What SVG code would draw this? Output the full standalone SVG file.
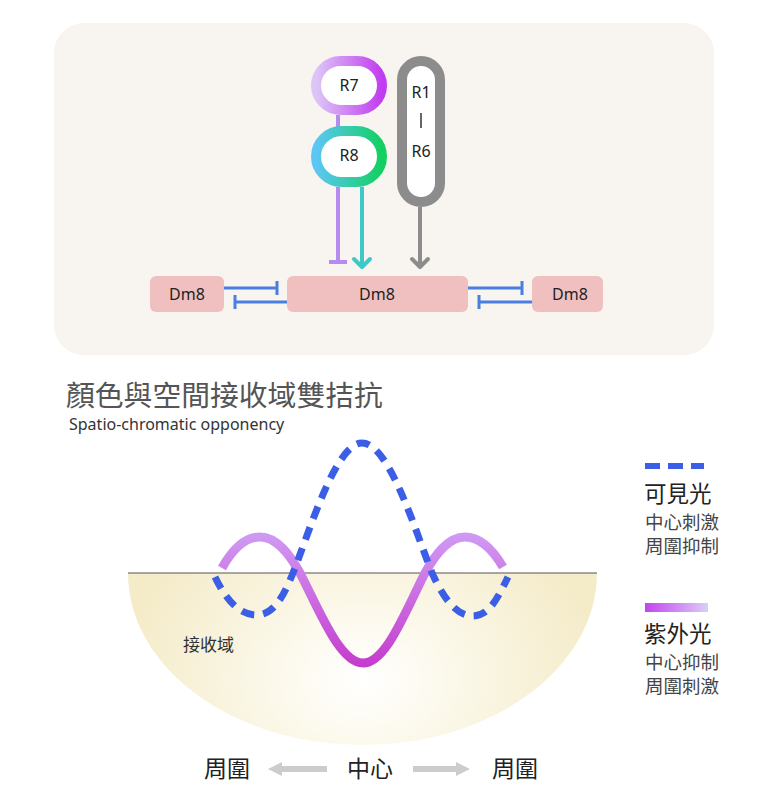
<svg xmlns="http://www.w3.org/2000/svg" width="768" height="812" viewBox="0 0 768 812">
  <style>
    .lat { font-family: "Noto Sans", "Open Sans", sans-serif; }
    .cjk { font-family: "Noto Sans CJK TC", "Noto Sans CJK SC", sans-serif; }
    .node { font-size: 16px; fill: #222; text-anchor: middle; }
    .dm8 { fill: #f0c0c0; }
    .inh { stroke: #4a7ee0; stroke-width: 3; fill: none; }
    .leg1 { font-size: 22.5px; fill: #222; }
    .leg2 { font-size: 18.5px; fill: #444; }
    .bot { font-size: 23px; fill: #222; text-anchor: middle; }
  </style>
  <defs>
    <linearGradient id="gR7" x1="0" y1="0" x2="1" y2="0">
      <stop offset="0" stop-color="#dcc6f6"/>
      <stop offset="1" stop-color="#c13cf0"/>
    </linearGradient>
    <linearGradient id="gR8" x1="0" y1="0" x2="1" y2="0">
      <stop offset="0" stop-color="#5cc6f6"/>
      <stop offset="1" stop-color="#12d060"/>
    </linearGradient>
    <linearGradient id="gUV" x1="0" y1="537" x2="0" y2="668" gradientUnits="userSpaceOnUse">
      <stop offset="0" stop-color="#cf98f2"/>
      <stop offset="1" stop-color="#c53acd"/>
    </linearGradient>
    <linearGradient id="gLeg" x1="0" y1="0" x2="1" y2="0">
      <stop offset="0" stop-color="#c444ee"/>
      <stop offset="1" stop-color="#dccdf8"/>
    </linearGradient>
    <radialGradient id="gRF" cx="362" cy="680" r="240" gradientUnits="userSpaceOnUse" gradientTransform="translate(362 680) scale(1 0.8) translate(-362 -680)">
      <stop offset="0" stop-color="#ffffff"/>
      <stop offset="0.35" stop-color="#fcf9ec"/>
      <stop offset="1" stop-color="#f4ebc8"/>
    </radialGradient>
  </defs>

  <!-- top panel -->
  <rect id="panel" x="54" y="23" width="660" height="332" rx="30" fill="#f8f4f0"/>

  <!-- connectors -->
  <g id="connectors" fill="none" stroke-width="4">
    <line x1="338" y1="115" x2="338" y2="127" stroke="#b48cf0"/>
    <line x1="338" y1="187" x2="338" y2="262" stroke="#b48cf0"/>
    <line x1="329" y1="262" x2="347" y2="262" stroke="#b48cf0"/>
    <line x1="362" y1="187" x2="362" y2="265" stroke="#3ec8c8"/>
    <polyline points="354,259 362,267 370,259" stroke="#3ec8c8" stroke-linecap="round" stroke-linejoin="round"/>
    <line x1="420" y1="207" x2="420" y2="265" stroke="#8c8c8c"/>
    <polyline points="412,259 420,267 428,259" stroke="#8c8c8c" stroke-linecap="round" stroke-linejoin="round"/>
    <g class="inh">
      <line x1="224" y1="288" x2="277" y2="288"/>
      <line x1="277" y1="281" x2="277" y2="295"/>
      <line x1="287" y1="302" x2="235" y2="302"/>
      <line x1="235" y1="295" x2="235" y2="309"/>
      <line x1="468" y1="288" x2="522" y2="288"/>
      <line x1="522" y1="281" x2="522" y2="295"/>
      <line x1="532" y1="302" x2="479" y2="302"/>
      <line x1="479" y1="295" x2="479" y2="309"/>
    </g>
  </g>

  <g id="R7">
    <rect x="316" y="61" width="66" height="49" rx="24.5" fill="#ffffff" stroke="url(#gR7)" stroke-width="10"/>
    <text class="lat node" x="349" y="91">R7</text>
  </g>
  <g id="R8">
    <rect x="316" y="131" width="66" height="51" rx="25.5" fill="#ffffff" stroke="url(#gR8)" stroke-width="10"/>
    <text class="lat node" x="349" y="161">R8</text>
  </g>
  <g id="R1R6">
    <rect x="402" y="61" width="38" height="141" rx="19" fill="#ffffff" stroke="#8c8c8c" stroke-width="10"/>
    <text class="lat node" x="421" y="98">R1</text>
    <line x1="421" y1="113" x2="421" y2="128" stroke="#333" stroke-width="1.5"/>
    <text class="lat node" x="421" y="157">R6</text>
  </g>
  <g id="Dm8-left">
    <rect class="dm8" x="150" y="276" width="74" height="36" rx="6"/>
    <text class="lat node" x="187" y="300">Dm8</text>
  </g>
  <g id="Dm8-center">
    <rect class="dm8" x="287" y="276" width="181" height="36" rx="6"/>
    <text class="lat node" x="377" y="300">Dm8</text>
  </g>
  <g id="Dm8-right">
    <rect class="dm8" x="532" y="276" width="71" height="36" rx="6"/>
    <text class="lat node" x="570" y="300">Dm8</text>
  </g>

  <!-- title -->
  <g id="title">
    <text class="cjk" x="66" y="406" font-size="28.8" fill="#555">顏色與空間接收域雙拮抗</text>
    <text class="lat" x="69" y="430" font-size="16" fill="#333">Spatio-chromatic opponency</text>
  </g>

  <!-- receptive field plot -->
  <g id="plot">
    <path d="M128,573 A234.5,172 0 0 0 597,573 Z" fill="url(#gRF)"/>
    <line x1="128" y1="573" x2="597" y2="573" stroke="#555" stroke-width="1.2"/>
    <text class="cjk" x="183" y="651" font-size="17" fill="#333">接收域</text>
    <path d="M222,568 C232,550 245,537 260,537 C277,537 290,555 300,573 C320,612 340,663 363,663 C386,663 405,612 425,573 C435,555 448,537 465,537 C480,537 493,550 503,567" fill="none" stroke="url(#gUV)" stroke-width="9"/>
    <path d="M215,577 C226,600 240,616 258,615 C276,614 286,590 293,573 C310,530 336,443 362,443 C389,443 415,530 432,573 C440,590 453,616 473,616 C490,616 499,595 508,577" fill="none" stroke="#3c5ee6" stroke-width="7" stroke-dasharray="13 9"/>
  </g>

  <!-- legend -->
  <g id="legend-visible">
    <line x1="645" y1="466" x2="704" y2="466" stroke="#3c5ee6" stroke-width="6" stroke-dasharray="15 8"/>
    <text class="cjk leg1" x="644" y="502">可見光</text>
    <text class="cjk leg2" x="645" y="529">中心刺激</text>
    <text class="cjk leg2" x="645" y="553">周圍抑制</text>
  </g>
  <g id="legend-uv">
    <rect x="645" y="603" width="63" height="9" fill="url(#gLeg)"/>
    <text class="cjk leg1" x="644" y="642">紫外光</text>
    <text class="cjk leg2" x="645" y="669">中心抑制</text>
    <text class="cjk leg2" x="645" y="693">周圍刺激</text>
  </g>

  <!-- bottom axis -->
  <g id="axis">
    <text class="cjk bot" x="227" y="777">周圍</text>
    <text class="cjk bot" x="370" y="777">中心</text>
    <text class="cjk bot" x="515" y="777">周圍</text>
    <path d="M327,766 L282,766 L282,762 L268,769 L282,776 L282,772 L327,772 Z" fill="#cccccc"/>
    <path d="M413,766 L456,766 L456,762 L470,769 L456,776 L456,772 L413,772 Z" fill="#cccccc"/>
  </g>
</svg>
